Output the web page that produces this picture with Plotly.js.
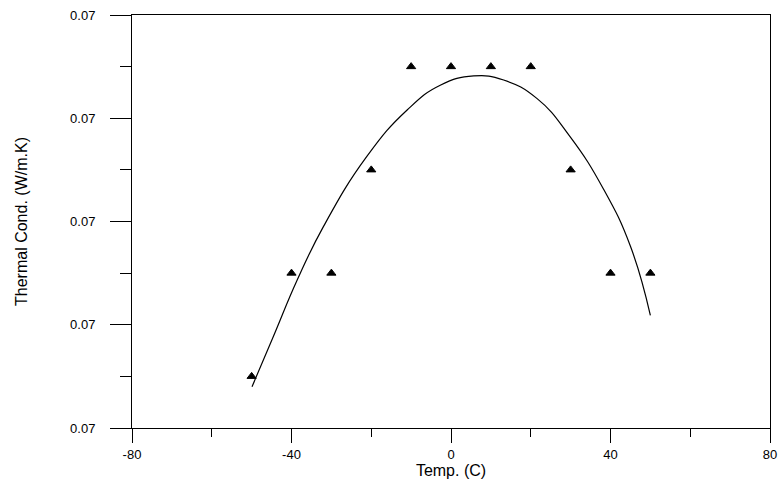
<!DOCTYPE html>
<html><head><meta charset="utf-8">
<script src="https://cdn.plot.ly/plotly-3.0.1.min.js"></script>
<style>body{margin:0;background:#fff}#chart{width:784px;height:485px}</style>
</head><body><div id="chart"></div>
<script>
const tempPoints = [-50, -40, -30, -20, -10, 0, 10, 20, 30, 40, 50];
const condPoints = [0.07005, 0.07015, 0.07015, 0.07025, 0.07035, 0.07035, 0.07035, 0.07035, 0.07025, 0.07015, 0.07015];
const tempCurve = [-49.9, -44.5, -38.6, -32.0, -21.1, -11.0, -2.7, 5.7, 13.2, 21.6, 29.9, 38.3, 45.0, 50.0];
const condCurve = [0.070040, 0.070089, 0.070143, 0.070195, 0.070263, 0.070308, 0.070332, 0.070341, 0.070337, 0.070319, 0.070282, 0.070231, 0.070176, 0.070109];
const xTicks = [-80, -40, 0, 40, 80];

const traces = [
  {x: tempCurve, y: condCurve, mode: 'lines', type: 'scatter',
   line: {color: '#000', width: 1.2, shape: 'spline', smoothing: 1.3}, hoverinfo: 'skip'},
  {x: tempPoints, y: condPoints, mode: 'markers', type: 'scatter',
   marker: {symbol: 'triangle-up', size: 8, color: '#000', line: {color: '#000', width: 1}}}
];
const font = {family: 'Liberation Sans, Arial, sans-serif', color: '#000'};
const layout = {
  width: 784, height: 485,
  margin: {l: 132, r: 14, t: 15, b: 57},
  paper_bgcolor: '#fff', plot_bgcolor: '#fff',
  showlegend: false,
  font: font,
  xaxis: {
    range: [-80, 80], tickvals: xTicks, ticktext: xTicks.map(String),
    showgrid: false, zeroline: false,
    showline: true, linecolor: '#000', linewidth: 1, mirror: true,
    ticks: 'outside', ticklen: 14, tickcolor: '#000', tickwidth: 1,
    minor: {dtick: 20, tick0: -80, ticks: 'outside', ticklen: 8, tickcolor: '#000', showgrid: false},
    tickfont: {family: font.family, size: 13, color: '#000'},
    title: {text: 'Temp. (C)', font: {family: font.family, size: 16, color: '#000'}, standoff: 0}
  },
  yaxis: {
    range: [0.0700, 0.0704], dtick: 0.0001, tick0: 0.0700, tickformat: '.2f',
    showgrid: false, zeroline: false,
    showline: true, linecolor: '#000', linewidth: 1, mirror: true,
    ticks: 'outside', ticklen: 21, tickcolor: '#000', tickwidth: 1,
    ticklabelstandoff: 12,
    minor: {dtick: 0.00005, tick0: 0.0700, ticks: 'outside', ticklen: 11, tickcolor: '#000', showgrid: false},
    tickfont: {family: font.family, size: 13, color: '#000'},
    title: {text: 'Thermal Cond. (W/m.K)', font: {family: 'Liberation Sans, Arial, sans-serif', size: 16, color: '#000'}, standoff: 38}
  }
};
Plotly.newPlot('chart', traces, layout, {displayModeBar: false, staticPlot: true});
</script>
</body></html>
